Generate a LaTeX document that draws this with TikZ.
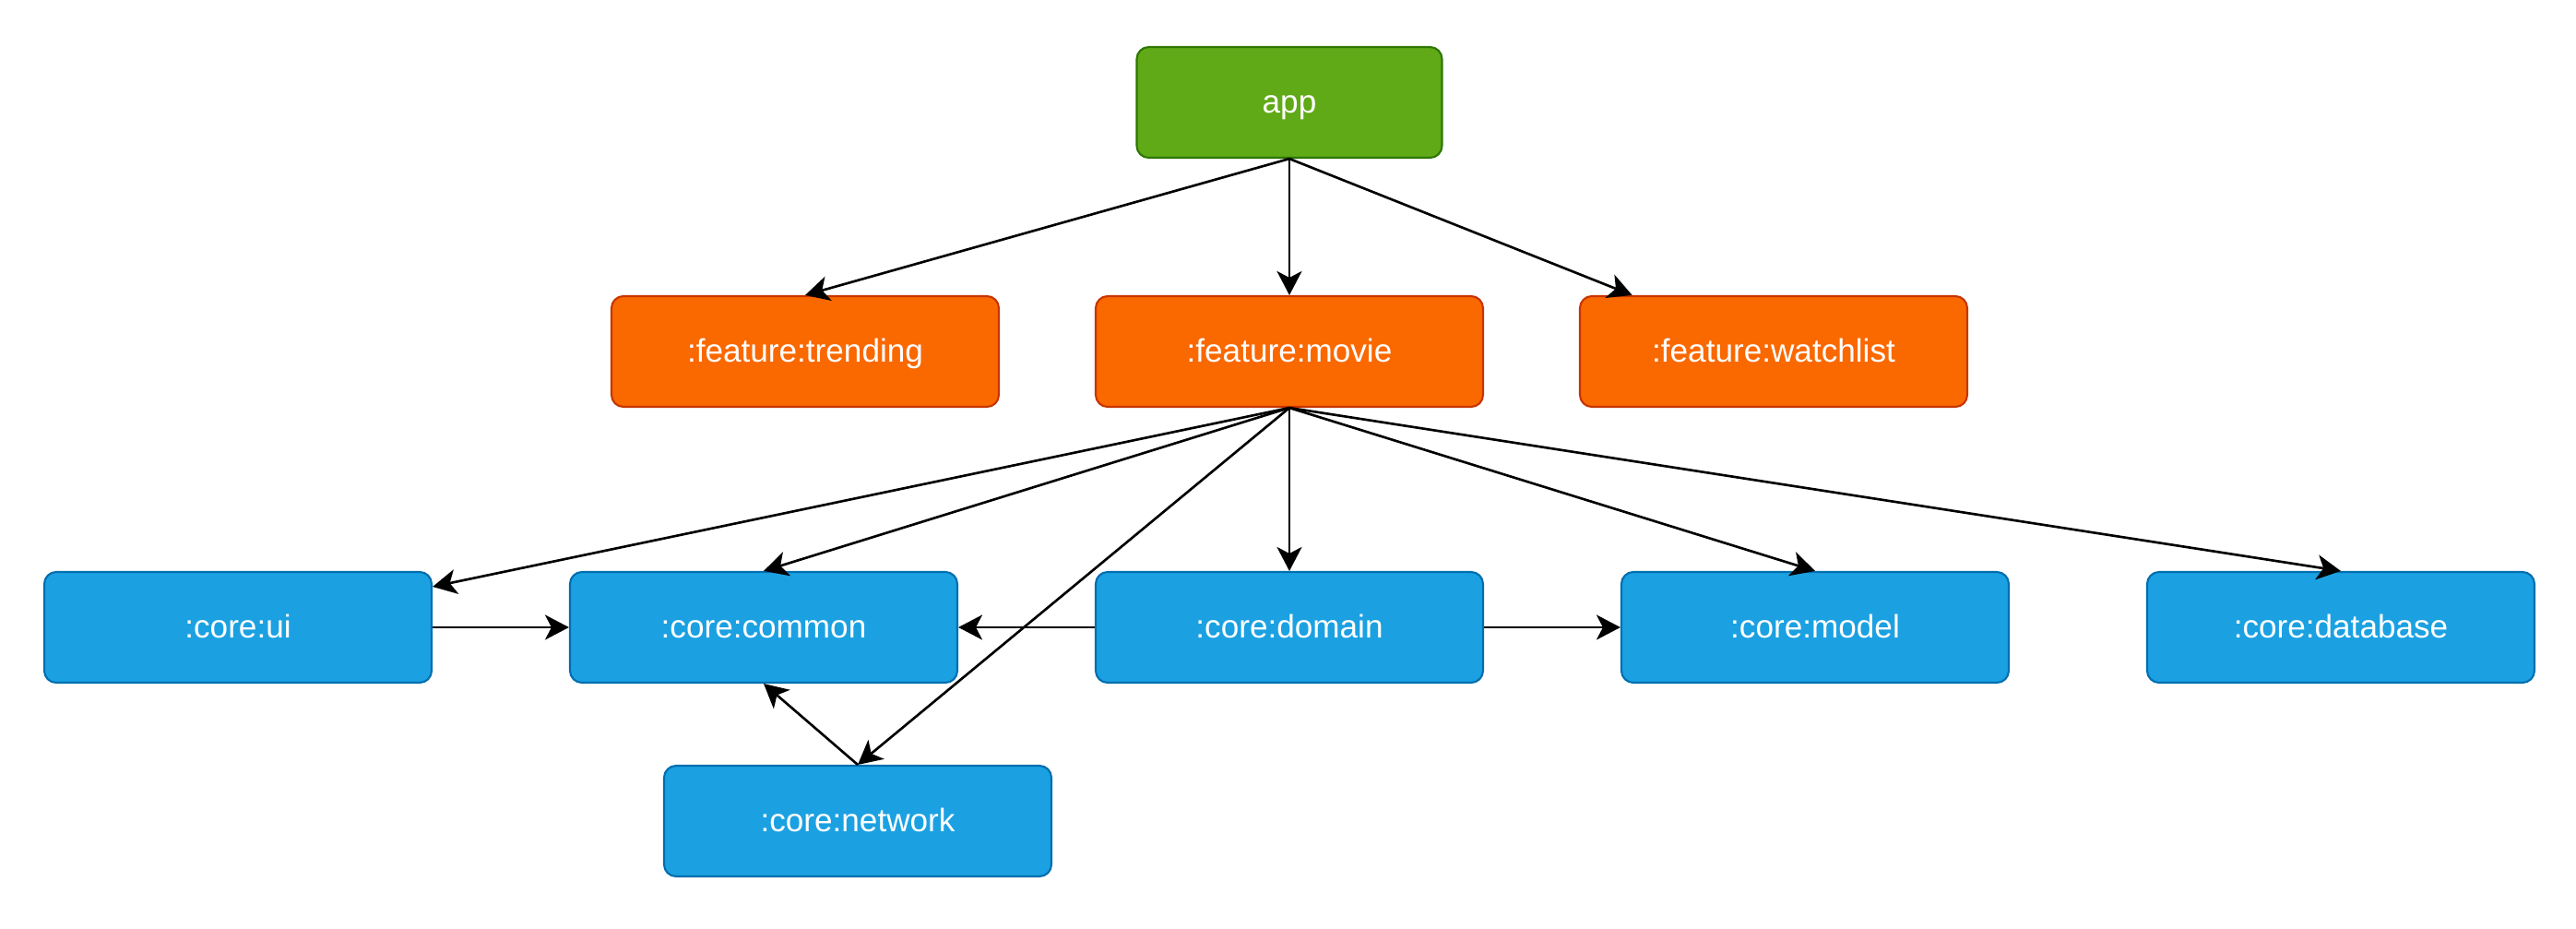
\documentclass[tikz,border=0pt]{standalone}
\usepackage{fontspec}
\setmainfont{Liberation Sans}
\usepackage{tikz}
\usetikzlibrary{arrows.meta}
\usetikzlibrary{positioning}

\definecolor{appfill}{HTML}{60A917}
\definecolor{appline}{HTML}{2D7600}
\definecolor{featfill}{HTML}{FA6800}
\definecolor{featline}{HTML}{C73500}
\definecolor{corefill}{HTML}{1BA1E2}
\definecolor{coreline}{HTML}{006EAF}

\tikzset{
    module/.style={rounded corners=0.13cm, line width=0.6pt, text=white,
        minimum width=4.2cm, minimum height=1.2cm, inner sep=0pt,
        text height=0.26cm, text depth=0.04cm,
        font=\fontsize{10}{12}\selectfont},
    appbox/.style={module, fill=appfill, draw=appline, minimum width=3.31cm},
    featbox/.style={module, fill=featfill, draw=featline},
    corebox/.style={module, fill=corefill, draw=coreline},
    dep/.style={-{Stealth[length=0.26cm, width=0.27cm, inset=0.07cm]}, line width=0.75pt}
}

\begin{document}
\begin{tikzpicture}
            \useasboundingbox (0,0) rectangle (27.93,-10.07);

            % App
            \node[appbox] (app) at (13.98,-1.11) {app};

            % Feature modules
            \node[featbox] (trending) at (8.73,-3.81) {:feature:trending};
            \node[featbox] (movie) at (13.98,-3.81) {:feature:movie};
            \node[featbox] (watchlist) at (19.23,-3.81) {:feature:watchlist};

            % Core modules
            \node[corebox] (ui) at (2.58,-6.80) {:core:ui};
            \node[corebox] (common) at (8.28,-6.80) {:core:common};
            \node[corebox] (domain) at (13.98,-6.80) {:core:domain};
            \node[corebox] (model) at (19.68,-6.80) {:core:model};
            \node[corebox] (database) at (25.38,-6.80) {:core:database};
            \node[corebox] (network) at (9.30,-8.90) {:core:network};

            % App dependencies
            \draw[dep] (app.south) -- (trending.north);
            \draw[dep] (app.south) -- (movie.north);
            \draw[dep] (app.south) -- (watchlist);

            % Movie dependencies
            \draw[dep] (movie.south) -- (ui);
            \foreach \target in {common, network, domain, model, database} {
                \draw[dep] (movie.south) -- (\target.north);
            }

            % Core dependencies
            \draw[dep] (ui.east) -- (common.west);
            \draw[dep] (domain.west) -- (common.east);
            \draw[dep] (domain.east) -- (model.west);
            \draw[dep] (network.north) -- (common.south);

        \end{tikzpicture}
\end{document}
